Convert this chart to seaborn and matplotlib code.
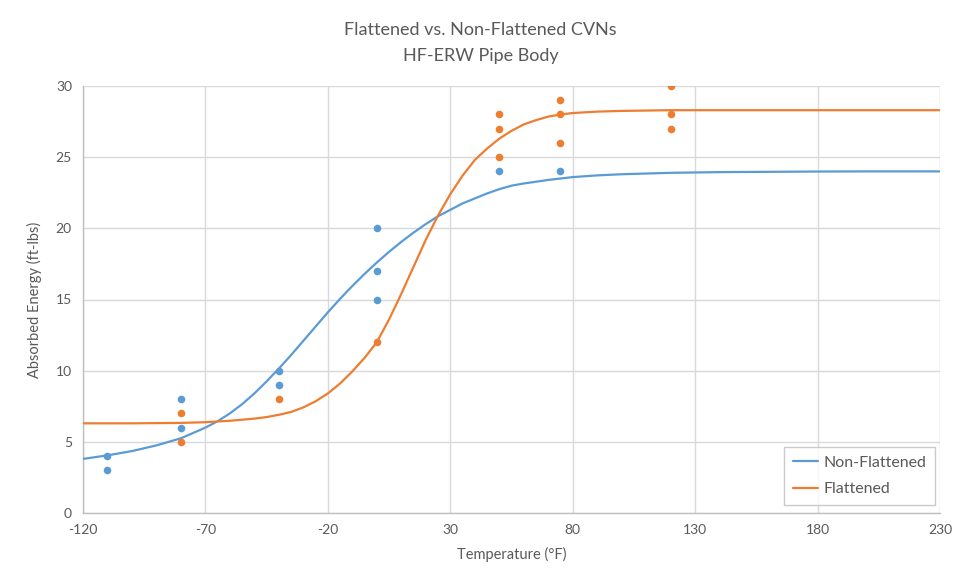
import numpy as np
import pandas as pd
import matplotlib
matplotlib.use("Agg")
import matplotlib.pyplot as plt
import seaborn as sns

# ---- data ----
nf_temp = [-110, -110, -80, -80, -40, -40, 0, 0, 0, 50, 75]
nf_energy = [4, 3, 8, 6, 10, 9, 20, 17, 15, 24, 24]

fl_temp = [-80, -80, -40, 0, 50, 50, 50, 75, 75, 75, 120, 120, 120]
fl_energy = [7, 5, 8, 12, 28, 27, 25, 29, 28, 26, 30, 28, 27]

# fitted curves
nf_curve_temp = [-120, -110, -100, -90, -80, -70, -65, -60, -55, -50, -45, -40,
                 -35, -30, -25, -20, -15, -10, -5, 0, 5, 10, 15, 20, 25, 30,
                 35, 40, 45, 50, 55, 60, 70, 80, 90, 100, 120, 140, 160, 180,
                 200, 230]
nf_curve = [3.8, 4.05, 4.35, 4.75, 5.25, 6.0, 6.45, 7.0, 7.65, 8.4, 9.25, 10.15,
            11.1, 12.1, 13.1, 14.1, 15.05, 15.95, 16.8, 17.6, 18.35, 19.05,
            19.7, 20.3, 20.85, 21.3, 21.75, 22.1, 22.45, 22.75, 23.0, 23.15,
            23.4, 23.6, 23.72, 23.8, 23.9, 23.95, 23.97, 23.99, 24.0, 24.0]

fl_curve_temp = [-120, -100, -80, -70, -60, -50, -45, -40, -35, -30, -25, -20,
                 -15, -10, -5, 0, 5, 10, 15, 20, 25, 30, 35, 40, 45, 50, 55,
                 60, 65, 70, 75, 80, 90, 100, 120, 140, 160, 180, 200, 230]
fl_curve = [6.3, 6.3, 6.33, 6.38, 6.48, 6.63, 6.74, 6.9, 7.1, 7.42, 7.85, 8.4,
            9.1, 9.95, 10.9, 12.0, 13.6, 15.4, 17.3, 19.2, 20.9, 22.4, 23.7,
            24.8, 25.6, 26.3, 26.85, 27.3, 27.6, 27.85, 28.0, 28.1, 28.2,
            28.25, 28.3, 28.3, 28.3, 28.3, 28.3, 28.3]

x_ticks = [-120, -70, -20, 30, 80, 130, 180, 230]
y_ticks = [0, 5, 10, 15, 20, 25, 30]

BLUE = "#5B9BD5"
ORANGE = "#ED7D31"
GRAY = "#595959"

sns.set_style("white")
plt.rcParams["font.family"] = ["Lato", "DejaVu Sans"]
plt.rcParams["axes.unicode_minus"] = False

fig = plt.figure(figsize=(9.61, 5.84), dpi=100)
ax = fig.add_axes([83 / 961, 1 - 513 / 584, (940 - 83) / 961, (513 - 86) / 584])

pts_nf = pd.DataFrame({"t": nf_temp, "e": nf_energy})
pts_fl = pd.DataFrame({"t": fl_temp, "e": fl_energy})
curves = pd.DataFrame({
    "t": nf_curve_temp + fl_curve_temp,
    "e": nf_curve + fl_curve,
    "series": ["Non-Flattened"] * len(nf_curve_temp) + ["Flattened"] * len(fl_curve_temp),
})

sns.lineplot(data=curves, x="t", y="e", hue="series",
             palette={"Non-Flattened": BLUE, "Flattened": ORANGE},
             linewidth=1.6, ax=ax, zorder=3)
sns.scatterplot(data=pts_nf, x="t", y="e", color=BLUE, s=30, linewidth=0,
                ax=ax, zorder=4, legend=False)
sns.scatterplot(data=pts_fl, x="t", y="e", color=ORANGE, s=30, linewidth=0,
                ax=ax, zorder=4, legend=False)

ax.set_xlim(-120, 230)
ax.set_ylim(0, 30)
ax.set_xticks(x_ticks)
ax.set_yticks(y_ticks)
ax.grid(True, color="#D9D9D9", linewidth=1.0, zorder=0)
ax.set_axisbelow(True)
for side in ["top", "right"]:
    ax.spines[side].set_visible(False)
for side in ["left", "bottom"]:
    ax.spines[side].set_color("#BFBFBF")
    ax.spines[side].set_linewidth(1.0)
ax.tick_params(axis="both", length=0, labelsize=10, colors=GRAY, pad=8)

ax.set_xlabel("Temperature (°F)", fontsize=10.5, color=GRAY, labelpad=8)
ax.set_ylabel("Absorbed Energy (ft-lbs)", fontsize=10.5, color=GRAY, labelpad=10)

fig.text(0.5, 1 - 30 / 584, "Flattened vs. Non-Flattened CVNs", ha="center",
         va="center", fontsize=13, color=GRAY)
fig.text(0.5, 1 - 56 / 584, "HF-ERW Pipe Body", ha="center", va="center",
         fontsize=13, color=GRAY)

leg = ax.legend(loc="lower right", bbox_to_anchor=(0.994, 0.019),
                borderaxespad=0, frameon=True, fancybox=False, fontsize=11.5,
                handlelength=1.6, handletextpad=0.3, borderpad=0.55,
                labelspacing=0.75, labelcolor=GRAY)
leg.get_frame().set_edgecolor("#BFBFBF")
leg.get_frame().set_linewidth(1.0)
leg.set_title(None)

fig.savefig("out.png", dpi=100, facecolor="white")
